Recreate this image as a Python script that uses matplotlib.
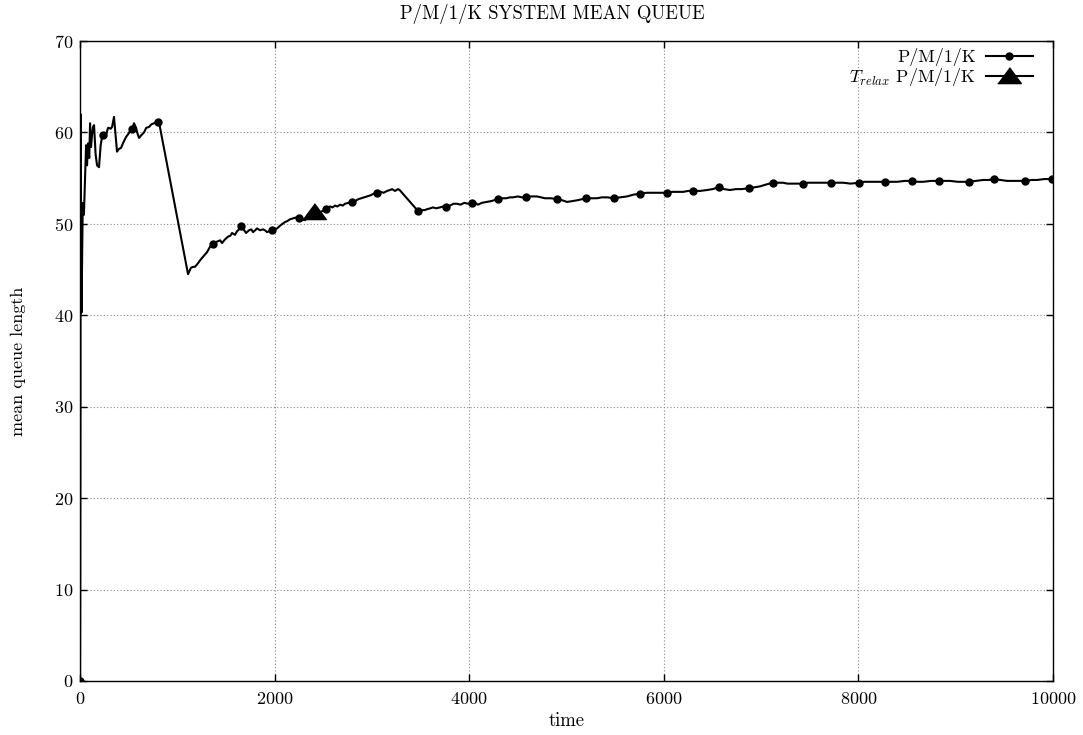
import matplotlib
matplotlib.use("Agg")
import matplotlib.pyplot as plt

plt.rcParams["font.family"] = ["cmr10", "DejaVu Serif"]
plt.rcParams["mathtext.fontset"] = "cm"
plt.rcParams["axes.formatter.use_mathtext"] = True
plt.rcParams["axes.unicode_minus"] = False

TITLE = "P/M/1/K SYSTEM MEAN QUEUE"
X_LABEL = "time"
Y_LABEL = "mean queue length"
SERIES_LABEL = "P/M/1/K"
RELAX_LABEL = r"$T_{relax}$ P/M/1/K"

X_TICKS = [0, 2000, 4000, 6000, 8000, 10000]
Y_TICKS = [0, 10, 20, 30, 40, 50, 60, 70]

# simulated mean queue length over time
TIME = [
    0, 2, 4, 6, 10, 15, 21, 28, 40, 52, 62, 72, 82, 95, 103, 113, 123, 134,
    144, 160, 175, 195, 212, 226, 236, 252, 267, 288, 298, 315, 329, 349,
    365, 380, 400, 421, 445, 473, 500, 524, 534, 555, 576, 590, 606, 630,
    658, 680, 709, 735, 761, 785, 802, 812,
    1110, 1140, 1165, 1182, 1213, 1240, 1264, 1305, 1336, 1367, 1395, 1418,
    1440, 1459, 1490, 1521, 1545, 1562, 1593, 1614, 1635, 1655, 1680, 1706,
    1737, 1760, 1778, 1800, 1819, 1850, 1881, 1900, 1922, 1945, 1973, 2000,
    2025, 2056, 2080, 2107, 2130, 2158, 2189, 2220, 2251, 2282, 2312, 2343,
    2370, 2405, 2430, 2456, 2490, 2528, 2550, 2569, 2595, 2621, 2645, 2672,
    2700, 2724, 2760, 2795, 2830, 2860, 2890, 2920, 2950, 2980, 3020, 3052,
    3090, 3120, 3155, 3185, 3207, 3237, 3268, 3285,
    3474, 3510, 3540, 3566, 3600, 3628, 3660, 3700, 3730, 3762, 3800, 3840,
    3875, 3910, 3950, 3990, 4029, 4060, 4090, 4130, 4183, 4230, 4260, 4296,
    4340, 4380, 4419, 4450, 4500, 4540, 4584, 4630, 4697, 4740, 4779, 4840,
    4902, 4950, 5005, 5067, 5120, 5160, 5200, 5260, 5313, 5365, 5420, 5488,
    5550, 5622, 5690, 5755, 5820, 5889, 5960, 6033, 6090, 6136, 6200, 6250,
    6300, 6370, 6444, 6500, 6567, 6620, 6680, 6740, 6800, 6876, 6930, 6989,
    7050, 7122, 7180, 7225, 7270, 7318, 7380, 7431, 7480, 7533, 7620, 7718,
    7780, 7842, 7920, 8006, 8060, 8119, 8200, 8273, 8330, 8397, 8480, 8551,
    8610, 8664, 8750, 8828, 8880, 8941, 9023, 9080, 9137, 9210, 9281, 9340,
    9394, 9460, 9527, 9600, 9660, 9712, 9780, 9836, 9910, 9990,
]
QUEUE = [
    0.0, 8.2, 24.8, 62.0, 49.0, 40.3, 46.0, 52.3, 51.0, 55.0, 58.6, 56.4,
    58.8, 57.2, 61.0, 58.4, 59.7, 60.6, 60.8, 57.6, 56.4, 56.2, 58.6, 59.5,
    59.7, 59.9, 59.7, 60.5, 60.5, 60.4, 60.6, 61.7, 59.8, 57.9, 58.2, 58.3,
    58.9, 59.5, 59.9, 60.3, 60.4, 61.0, 60.5, 59.9, 59.4, 59.7, 60.0, 60.5,
    60.6, 60.9, 61.0, 61.2, 61.1, 61.1,
    44.5, 45.2, 45.3, 45.3, 45.7, 46.1, 46.4, 46.9, 47.5, 47.8, 48.0, 48.1,
    48.2, 47.9, 48.3, 48.6, 48.7, 49.0, 48.8, 49.2, 49.4, 49.8, 49.4, 49.0,
    49.3, 49.4, 49.1, 49.3, 49.5, 49.3, 49.4, 49.3, 49.1, 49.2, 49.3, 49.4,
    49.5, 49.8, 50.0, 50.2, 50.3, 50.5, 50.6, 50.7, 50.6, 50.5, 50.4, 51.0,
    50.9, 51.2, 51.1, 51.2, 51.4, 51.6, 51.8, 51.9, 51.8, 52.0, 51.9, 52.1,
    52.0, 52.2, 52.3, 52.4, 52.5, 52.7, 52.8, 52.9, 53.0, 53.1, 53.3, 53.4,
    53.5, 53.4, 53.6, 53.7, 53.8, 53.6, 53.8, 53.7,
    51.4, 51.5, 51.5, 51.6, 51.7, 51.8, 51.7, 51.8, 51.9, 51.8, 52.0, 52.2,
    52.2, 52.1, 52.3, 52.2, 52.3, 52.3, 52.1, 52.3, 52.4, 52.5, 52.6, 52.7,
    52.8, 52.8, 52.9, 52.9, 53.0, 52.9, 52.9, 53.0, 53.0, 52.9, 52.8, 52.8,
    52.7, 52.6, 52.4, 52.5, 52.6, 52.7, 52.8, 52.8, 52.8, 52.9, 52.9, 52.8,
    52.9, 53.0, 53.2, 53.3, 53.4, 53.4, 53.4, 53.4, 53.5, 53.5, 53.5, 53.6,
    53.6, 53.6, 53.7, 53.8, 54.0, 53.8, 53.7, 53.8, 53.8, 53.9, 54.0, 54.1,
    54.3, 54.5, 54.5, 54.5, 54.4, 54.4, 54.4, 54.4, 54.5, 54.5, 54.5, 54.5,
    54.5, 54.5, 54.4, 54.5, 54.6, 54.6, 54.6, 54.6, 54.6, 54.6, 54.7, 54.7,
    54.6, 54.6, 54.7, 54.7, 54.7, 54.7, 54.6, 54.6, 54.6, 54.7, 54.8, 54.8,
    54.9, 54.8, 54.7, 54.7, 54.7, 54.7, 54.8, 54.8, 54.9, 54.9,
]
# sample times that carry a point symbol
MARK_TIME = [
    0, 236, 534, 802, 1367, 1655, 1973, 2251, 2528, 2795, 3052, 3474, 3762,
    4029, 4296, 4584, 4902, 5200, 5488, 5755, 6033, 6300, 6567, 6876, 7122,
    7431, 7718, 8006, 8273, 8551, 8828, 9137, 9394, 9712, 9990,
]
# relaxation time estimate
T_RELAX = [2405]
Q_RELAX = [51.3]

fig = plt.figure(figsize=(10.83, 7.35), dpi=100)
ax = fig.add_axes([0.0739, 0.0735, 0.8984, 0.8707])

mark_idx = [TIME.index(t) for t in MARK_TIME]
ax.plot(TIME, QUEUE, color="black", lw=1.5, marker="o", markersize=5,
        markevery=mark_idx, label=SERIES_LABEL, zorder=3)

tri = [(-1.0, -0.6), (1.0, -0.6), (0.0, 0.75)]
ax.plot(T_RELAX, Q_RELAX, color="black", lw=1.5, marker=tri,
        markersize=17, linestyle="-", label=RELAX_LABEL, zorder=4)

ax.set_xlim(0, 10000)
ax.set_ylim(0, 70)
ax.set_xticks(X_TICKS)
ax.set_yticks(Y_TICKS)
ax.tick_params(direction="in", length=5, width=1, top=True, right=True,
               labelsize=13, pad=5, colors="black")
ax.tick_params(axis="x", pad=7)
ax.grid(True, linestyle=(0, (1, 2)), color="#888888", linewidth=0.8)
for s in ax.spines.values():
    s.set_linewidth(1.0)
    s.set_color("black")

fig.text(552 / 1083, 1 - 14 / 735, TITLE, fontsize=13.5,
         ha="center", va="center")
ax.set_xlabel(X_LABEL, fontsize=13.5, labelpad=4)
ax.set_ylabel(Y_LABEL, fontsize=13, labelpad=20)

leg = ax.legend(loc="upper right", frameon=False, markerfirst=False,
                fontsize=13, handlelength=2.6, handletextpad=0.55,
                labelspacing=0.0, borderaxespad=0.0, borderpad=0.0,
                bbox_to_anchor=(0.979, 0.989))

fig.savefig("out.png", dpi=100)
